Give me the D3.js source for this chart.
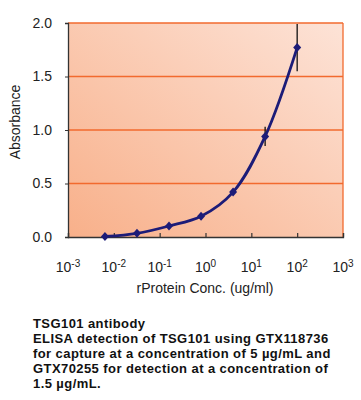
<!DOCTYPE html>
<html><head><meta charset="utf-8">
<script src="https://cdn.jsdelivr.net/npm/d3@7"></script>
<style>
html,body{margin:0;padding:0;background:#fff;}
svg{display:block;font-family:"Liberation Sans",Arial,sans-serif;}
</style></head>
<body>
<svg id="c" width="361" height="400"></svg>
<script>
const concentrations = [0.0064, 0.032, 0.16, 0.8, 4, 20, 100];
const absorbance = [0.005, 0.034, 0.103, 0.194, 0.42, 0.94, 1.77];
const errors = [0.005, 0.005, 0.01, 0.03, 0.01, 0.09, 0.22];
const xTickExps = [-3, -2, -1, 0, 1, 2, 3];
const yTicks = [0.0, 0.5, 1.0, 1.5, 2.0];
const captionLines = [
  "TSG101 antibody",
  "ELISA detection of TSG101 using GTX118736",
  "for capture at a concentration of 5 \u00b5g/mL and",
  "GTX70255 for detection at a concentration of",
  "1.5 \u00b5g/mL."
];

const svg = d3.select("#c");
const L = 68, R = 343, T = 23, B = 237;
const x = d3.scaleLog().domain([1e-3, 1e3]).range([L, R]);
const y = d3.scaleLinear().domain([0, 2]).range([B, T]);

const defs = svg.append("defs");
const g = defs.append("linearGradient").attr("id", "bg")
  .attr("x1", "0").attr("y1", "1").attr("x2", "1").attr("y2", "0");
g.append("stop").attr("offset", "0").attr("stop-color", "#f8b08a");
g.append("stop").attr("offset", "1").attr("stop-color", "#fde3d7");

svg.append("rect").attr("x", L).attr("y", T).attr("width", R - L).attr("height", B - T)
  .attr("fill", "url(#bg)");

// gridlines
svg.append("g").selectAll("line").data(yTicks.filter(d => d > 0)).join("line")
  .attr("x1", L).attr("x2", R).attr("y1", d => y(d)).attr("y2", d => y(d))
  .attr("stroke", "#f26a2e").attr("stroke-width", 1.3);
// right border
svg.append("line").attr("x1", R).attr("x2", R).attr("y1", T).attr("y2", B)
  .attr("stroke", "#f26a2e").attr("stroke-width", 1.3);

// y axis
const yAxis = d3.axisLeft(y).tickValues(yTicks).tickFormat(d3.format(".1f")).tickSize(3).tickPadding(13);
const ya = svg.append("g").attr("transform", `translate(${L},0)`).call(yAxis);
ya.select(".domain").attr("stroke", "#333").attr("stroke-width", 1.3);
ya.selectAll(".tick line").attr("stroke", "#333");
ya.selectAll("text").attr("font-size", 14).attr("fill", "#222")
  .attr("font-family", "Liberation Sans, Arial, sans-serif");

// x axis
const xAxis = d3.axisBottom(x).tickValues(xTickExps.map(e => Math.pow(10, e))).tickSize(-4).tickFormat("");
const xa = svg.append("g").attr("transform", `translate(0,${B})`).call(xAxis);
xa.select(".domain").attr("stroke", "#333").attr("stroke-width", 1.3);
xa.selectAll(".tick line").attr("stroke", "#333").attr("stroke-width", 1.2);

// x tick labels with superscripts
const xl = svg.append("g").attr("font-size", 14).attr("fill", "#222");
xTickExps.forEach(e => {
  const t = xl.append("text").attr("x", x(Math.pow(10, e))).attr("y", 272).attr("text-anchor", "middle");
  t.append("tspan").text("10");
  t.append("tspan").attr("font-size", 10).attr("dy", -5).text(String(e));
});

// axis titles
svg.append("text").attr("x", 205).attr("y", 293).attr("text-anchor", "middle")
  .attr("font-size", 14).attr("fill", "#222").text("rProtein Conc. (ug/ml)");
svg.append("text").attr("transform", "translate(20,122) rotate(-90)").attr("text-anchor", "middle")
  .attr("font-size", 14).attr("fill", "#222").text("Absorbance");

// error bars
const data = concentrations.map((c, i) => ({c, a: absorbance[i], e: errors[i]}));
svg.append("g").selectAll("line").data(data).join("line")
  .attr("x1", d => x(d.c)).attr("x2", d => x(d.c))
  .attr("y1", d => y(d.a - d.e)).attr("y2", d => y(d.a + d.e))
  .attr("stroke", "#111").attr("stroke-width", 1.3);

// curve
const line = d3.line().x(d => x(d.c)).y(d => y(d.a)).curve(d3.curveCatmullRom.alpha(0.5));
svg.append("path").datum(data).attr("d", line).attr("fill", "none")
  .attr("stroke", "#1c1c78").attr("stroke-width", 2.8);

// markers
svg.append("g").selectAll("path").data(data).join("path")
  .attr("transform", d => `translate(${x(d.c)},${y(d.a)})`)
  .attr("d", "M0,-4.5L4,0L0,4.5L-4,0Z").attr("fill", "#1c1c78");

// caption
const cap = svg.append("text").attr("x", 33).attr("y", 328).attr("font-size", 13)
  .attr("font-weight", "bold").attr("letter-spacing", 0.42).attr("fill", "#111");
captionLines.forEach((s, i) => {
  cap.append("tspan").attr("x", 33).attr("y", 328 + i * 15).text(s);
});
</script>
</body></html>
